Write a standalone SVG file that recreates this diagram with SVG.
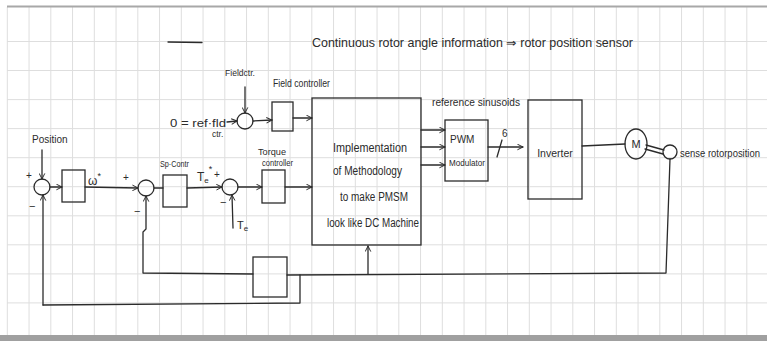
<svg xmlns="http://www.w3.org/2000/svg" width="767" height="341" viewBox="0 0 767 341">
<style>
.grid{stroke:#dedede;stroke-width:1;fill:none}
.ln{stroke:#2b2b2b;stroke-width:1.3;fill:none;stroke-linecap:round;stroke-linejoin:round}
.ar{marker-end:url(#arr)}
.bx{stroke:#2b2b2b;stroke-width:1.3;fill:none}
.t{font-family:"Liberation Sans",Arial,sans-serif;fill:#2b2b2b}
.c{text-anchor:middle}
</style>
<defs>
<marker id="arr" viewBox="0 0 10 10" refX="9" refY="5" markerWidth="7" markerHeight="7" orient="auto" markerUnits="userSpaceOnUse">
<path d="M1,1 L9,5 L1,9" fill="none" stroke="#2b2b2b" stroke-width="1.4"/>
</marker>
</defs>
<rect x="0" y="0" width="767" height="341" fill="#fff"/>
<g id="paper">
<path class="grid" d="M7.3 7V336M29.05 7V336M50.8 7V336M72.55 7V336M94.3 7V336M116.05 7V336M137.8 7V336M159.55 7V336M181.3 7V336M203.05 7V336M224.8 7V336M246.55 7V336M268.3 7V336M290.05 7V336M311.8 7V336M333.55 7V336M355.3 7V336M377.05 7V336M398.8 7V336M420.55 7V336M442.3 7V336M464.05 7V336M485.8 7V336M507.55 7V336M529.3 7V336M551.05 7V336M572.8 7V336M594.55 7V336M616.3 7V336M638.05 7V336M659.8 7V336M681.55 7V336M703.3 7V336M725.05 7V336M746.8 7V336"/>
<path class="grid" d="M7 41.5H767M7 70.5H767M7 99.6H767M7 128.6H767M7 157.7H767M7 186.7H767M7 215.8H767M7 244.8H767M7 273.9H767M7 302.9H767"/>
<line x1="7" y1="6.5" x2="767" y2="6.5" stroke="#a8a8a8" stroke-width="2"/>
<rect x="0" y="335" width="767" height="6" fill="#a0a0a0"/>
</g>
<g id="title">
<text class="t" x="312" y="47" font-size="12" textLength="321" lengthAdjust="spacingAndGlyphs">Continuous rotor angle information ⇒ rotor position sensor</text>
<line class="ln" x1="168" y1="42" x2="202" y2="42.5"/>
</g>
<g id="sum_position">
<circle class="bx" cx="42" cy="187" r="8"/>
<text class="t" x="32" y="143" font-size="10">Position</text>
<text class="t" x="26" y="179" font-size="10">+</text>
<text class="t" x="29" y="210" font-size="11">−</text>
</g>
<g id="position_controller">
<rect class="bx" x="62" y="170" width="23" height="32"/>
</g>
<g id="sum_speed">
<circle class="bx" cx="146" cy="188" r="8"/>
<text class="t" x="123" y="181" font-size="10">+</text>
<text class="t" x="134" y="215" font-size="11">−</text>
</g>
<g id="speed_controller">
<rect class="bx" x="163" y="175" width="24" height="32"/>
<text class="t" x="160" y="167" font-size="9.5" textLength="29" lengthAdjust="spacingAndGlyphs">Sp·Contr</text>
</g>
<g id="sum_torque">
<circle class="bx" cx="230" cy="187" r="8"/>
<text class="t" x="214" y="178" font-size="10">+</text>
<text class="t" x="220" y="206" font-size="11">−</text>
</g>
<g id="torque_controller">
<rect class="bx" x="262" y="170" width="23" height="33"/>
<text class="t" x="258" y="155" font-size="9" textLength="28" lengthAdjust="spacingAndGlyphs">Torque</text>
<text class="t" x="262" y="166" font-size="8.5" textLength="31" lengthAdjust="spacingAndGlyphs">controller</text>
</g>
<g id="sum_field">
<circle class="bx" cx="245" cy="121" r="8"/>
<text class="t" x="225" y="76" font-size="9.5" textLength="30" lengthAdjust="spacingAndGlyphs">Fieldctr.</text>
<text class="t" x="170" y="127" font-size="11.5" textLength="56" lengthAdjust="spacingAndGlyphs">0 = ref·fld</text>
<text class="t" x="212" y="137" font-size="8.5">ctr.</text>
</g>
<g id="field_controller">
<rect class="bx" x="272" y="102" width="21" height="29"/>
<text class="t" x="273" y="87" font-size="10" textLength="57" lengthAdjust="spacingAndGlyphs">Field controller</text>
</g>
<g id="methodology">
<rect class="bx" x="312" y="98" width="109" height="147"/>
<text class="t" x="333" y="152" font-size="12" textLength="74" lengthAdjust="spacingAndGlyphs">Implementation</text>
<text class="t" x="333" y="175" font-size="12" textLength="69" lengthAdjust="spacingAndGlyphs">of Methodology</text>
<text class="t" x="340" y="201" font-size="12" textLength="68" lengthAdjust="spacingAndGlyphs">to make PMSM</text>
<text class="t" x="327" y="227" font-size="12" textLength="92" lengthAdjust="spacingAndGlyphs">look like DC Machine</text>
</g>
<g id="pwm_modulator">
<rect class="bx" x="445" y="120" width="43" height="61"/>
<text class="t" x="432" y="106" font-size="11" textLength="88" lengthAdjust="spacingAndGlyphs">reference sinusoids</text>
<text class="t" x="450" y="143" font-size="10">PWM</text>
<text class="t" x="449" y="166" font-size="9" textLength="36" lengthAdjust="spacingAndGlyphs">Modulator</text>
</g>
<g id="inverter">
<rect class="bx" x="528" y="100" width="54" height="99"/>
<text class="t c" x="555" y="157" font-size="10.5">Inverter</text>
</g>
<g id="motor">
<ellipse class="bx" cx="636" cy="144" rx="11" ry="15"/>
<text class="t c" x="636" y="148" font-size="11">M</text>
</g>
<g id="sensor">
<circle class="bx" cx="670" cy="152" r="7"/>
<text class="t" x="680" y="157" font-size="10" textLength="80" lengthAdjust="spacingAndGlyphs">sense rotorposition</text>
</g>
<g id="speed_estimator">
<rect class="bx" x="253" y="257" width="34" height="40"/>
</g>
<g id="connectors">
<path class="ln ar" d="M42 150V179"/>
<path class="ln ar" d="M50 187H62"/>
<path class="ln ar" d="M85 187L138 188"/>
<text class="t" x="88" y="185" font-size="12">ω<tspan font-size="9" dy="-6">*</tspan></text>
<path class="ln" d="M154 188H163"/>
<path class="ln ar" d="M187 188L222 187"/>
<text class="t" x="197" y="181" font-size="12">T<tspan font-size="8" dy="2">e</tspan><tspan font-size="9" dy="-11">*</tspan></text>
<path class="ln ar" d="M238 187H262"/>
<path class="ln ar" d="M285 187H312"/>
<path class="ln ar" d="M233 228L232 195"/>
<text class="t" x="237" y="229" font-size="11">T<tspan font-size="8" dy="2">e</tspan></text>
<path class="ln ar" d="M227 122L237 121"/>
<path class="ln ar" d="M245 87V113"/>
<path class="ln ar" d="M253 121L272 120"/>
<path class="ln ar" d="M293 118H312"/>
<path class="ln ar" d="M421 130H445"/>
<path class="ln ar" d="M421 147H445"/>
<path class="ln ar" d="M421 165H445"/>
<path class="ln ar" d="M488 147H523"/>
<path class="ln" d="M497 157L502 140"/>
<text class="t" x="502" y="137" font-size="10">6</text>
<path class="ln" d="M582 146L625 144"/>
<path class="ln" d="M646 145L664 150M645 149L663 154"/>
<path class="ln" d="M670 159L666 273L287 275"/>
<path class="ln ar" d="M368 274V246"/>
<path class="ln" d="M300 275V303L43 305"/>
<path class="ln ar" d="M43 305V195"/>
<path class="ln ar" d="M253 274L143 273L143 232L146 229V196"/>
</g>
</svg>
